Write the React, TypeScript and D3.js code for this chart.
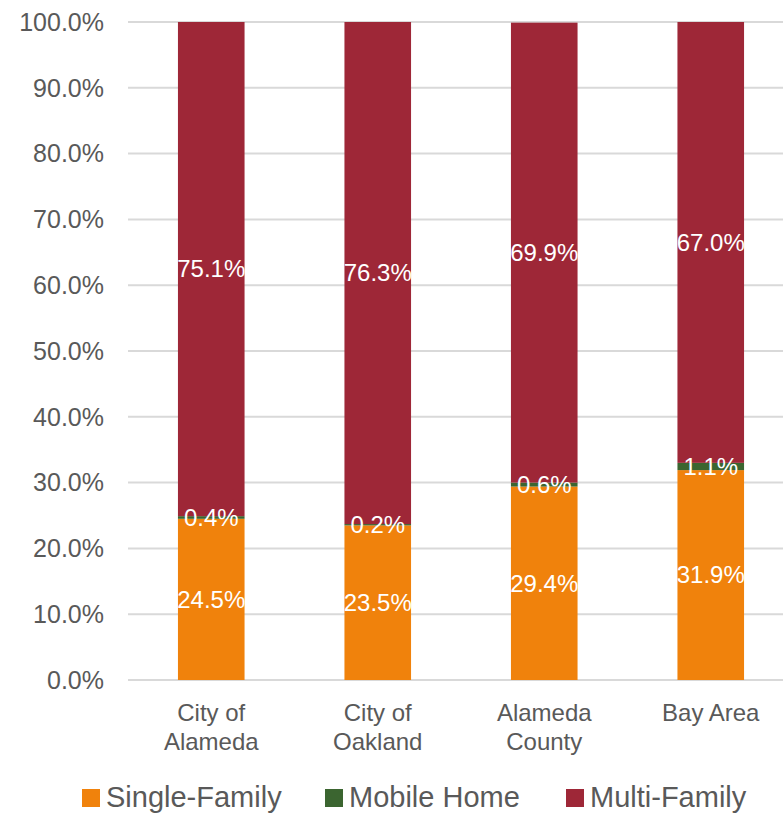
import React from 'react';
import * as d3 from 'd3';

const categories: string[][] = [
  ['City of', 'Alameda'],
  ['City of', 'Oakland'],
  ['Alameda', 'County'],
  ['Bay Area'],
];
const seriesNames = ['Single-Family', 'Mobile Home', 'Multi-Family'];
const singleFamily = [24.5, 23.5, 29.4, 31.9];
const mobileHome = [0.4, 0.2, 0.6, 1.1];
const multiFamily = [75.1, 76.3, 69.9, 67.0];
const yTicks = [0, 10, 20, 30, 40, 50, 60, 70, 80, 90, 100];

const colors = ['#F0820C', '#3B6530', '#9E2737'];
const legendX = [82, 325, 566];

const W = 783;
const H = 815;
const font = '"Liberation Sans", Arial, sans-serif';

const App: React.FC = () => {
  const keys = categories.map((c) => c.join(' '));
  const x = d3.scaleBand<string>()
    .domain(keys)
    .range([128, 794])
    .paddingInner(0.6)
    .paddingOuter(0.3);
  const y = d3.scaleLinear().domain([0, 100]).range([680, 22]);

  const rows = keys.map((k, i) => ({
    key: k,
    'Single-Family': singleFamily[i],
    'Mobile Home': mobileHome[i],
    'Multi-Family': multiFamily[i],
  }));
  const stacked = d3.stack<any>().keys(seriesNames)(rows);

  return (
    <svg width={W} height={H} style={{ position: 'absolute', left: 0, top: 0 }} fontFamily={font}>
      {yTicks.map((t) => (
        <g key={t}>
          <line x1={128} x2={W} y1={y(t)} y2={y(t)} stroke="#D9D9D9" strokeWidth={2} />
          <text x={104} y={y(t)} dy="0.35em" textAnchor="end" fontSize={25} fill="#595959">
            {t.toFixed(1)}%
          </text>
        </g>
      ))}
      {stacked.map((s, si) => (
        <g key={s.key}>
          {s.map((d, i) => (
            <rect
              key={i}
              x={x(keys[i])!}
              width={x.bandwidth()}
              y={y(d[1])}
              height={y(d[0]) - y(d[1])}
              fill={colors[si]}
            />
          ))}
        </g>
      ))}
      {stacked.map((s) => (
        <g key={s.key + '-lbl'}>
          {s.map((d, i) => (
            <text
              key={i}
              x={x(keys[i])! + x.bandwidth() / 2}
              y={y((d[0] + d[1]) / 2)}
              dy="0.35em"
              textAnchor="middle"
              fontSize={24}
              fill="#FFFFFF"
            >
              {(d[1] - d[0]).toFixed(1)}%
            </text>
          ))}
        </g>
      ))}
      {categories.map((lines, i) => (
        <text key={i} textAnchor="middle" fontSize={24} fill="#595959">
          {lines.map((ln, j) => (
            <tspan key={j} x={x(keys[i])! + x.bandwidth() / 2} y={721 + j * 29}>
              {ln}
            </tspan>
          ))}
        </text>
      ))}
      {seriesNames.map((n, i) => (
        <g key={n}>
          <rect x={legendX[i]} y={789} width={18} height={18} fill={colors[i]} />
          <text x={legendX[i] + 24} y={807} fontSize={29} fill="#595959">
            {n}
          </text>
        </g>
      ))}
    </svg>
  );
};

export default App;
